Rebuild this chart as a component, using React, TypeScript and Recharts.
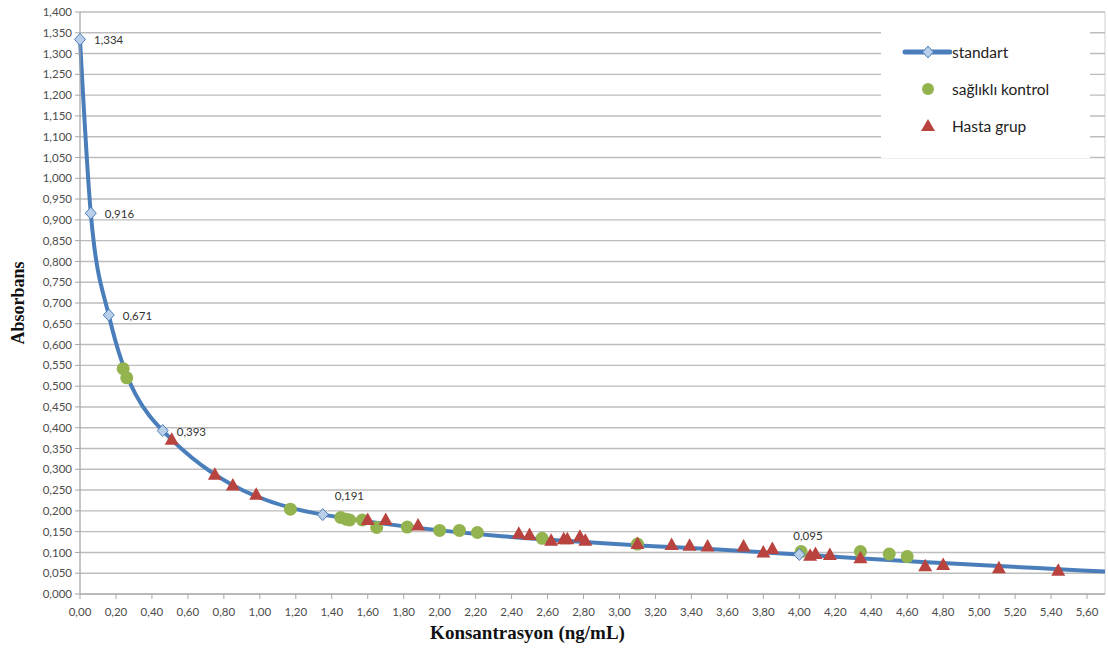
import React from "react";
import {
  CartesianGrid,
  ComposedChart,
  LabelList,
  Legend,
  Line,
  Scatter,
  XAxis,
  YAxis,
} from "recharts";

// standart eğrisi (son nokta: eğrinin grafik kenarına uzanan kısmı, etiketsiz)
const standartX = [0, 0.06, 0.16, 0.46, 1.35, 4.0, 5.7];
const standartY = [1.334, 0.916, 0.671, 0.393, 0.191, 0.095, 0.054];

const kontrolX = [
  0.24, 0.26, 1.17, 1.45, 1.48, 1.5, 1.57, 1.65, 1.82, 2.0, 2.11, 2.21, 2.57,
  3.1, 4.01, 4.34, 4.5, 4.6,
];
const kontrolY = [
  0.542, 0.52, 0.204, 0.184, 0.18, 0.178, 0.178, 0.16, 0.161, 0.153, 0.153,
  0.148, 0.134, 0.12, 0.102, 0.102, 0.096, 0.09,
];

const hastaX = [
  0.51, 0.75, 0.85, 0.98, 1.6, 1.7, 1.88, 2.44, 2.5, 2.62, 2.69, 2.71, 2.78,
  2.81, 3.1, 3.29, 3.39, 3.49, 3.69, 3.8, 3.85, 4.06, 4.09, 4.17, 4.34, 4.7,
  4.8, 5.11, 5.44,
];
const hastaY = [
  0.371, 0.287, 0.261, 0.239, 0.178, 0.178, 0.165, 0.145, 0.142, 0.128, 0.132,
  0.132, 0.138, 0.128, 0.12, 0.118, 0.116, 0.114, 0.114, 0.1, 0.108, 0.092,
  0.096, 0.094, 0.086, 0.067, 0.07, 0.062, 0.056,
];

const xTicks = Array.from({ length: 29 }, (_, i) => +(i * 0.2).toFixed(2));
const yTicks = Array.from({ length: 29 }, (_, i) => +(i * 0.05).toFixed(2));
const gridTicks = Array.from({ length: 143 }, (_, i) => +(i * 0.04).toFixed(2));

const standart = standartX.map((x, i) => ({ x, y: standartY[i] }));
const kontrol = kontrolX.map((x, i) => ({ x, y: kontrolY[i] }));
const hasta = hastaX.map((x, i) => ({ x, y: hastaY[i] }));

const BLUE = "#4a7ebb";
const GREEN = "#93b34f";
const RED = "#b8433f";
const FONT = "Lato, 'Open Sans', sans-serif";

const labelSide = ["right", "right", "right", "right", "top", "top"];

const comma = (v: number, d: number) => v.toFixed(d).replace(".", ",");

function Diamond({ cx, cy }: { cx: number; cy: number }) {
  return (
    <path
      d={`M${cx},${cy - 6}L${cx + 5.5},${cy}L${cx},${cy + 6}L${cx - 5.5},${cy}Z`}
      fill="#b9cfe9"
      stroke={BLUE}
      strokeWidth={1}
    />
  );
}

const renderDot = (p: any) => {
  if (p.index >= labelSide.length) return <g key={`d${p.index}`} />;
  return (
    <g key={`d${p.index}`}>
      <Diamond cx={p.cx} cy={p.cy} />
    </g>
  );
};

const renderStdLabel = (p: any) => {
  const { x, y, value, index } = p;
  if (index >= labelSide.length) return null;
  const right = labelSide[index] === "right";
  return (
    <text
      x={right ? x + 14 : index === 5 ? x - 6 : x + 12}
      y={right ? y + 5 : y - 15}
      fontSize={11.5}
      fontFamily={FONT}
      fill="#333"
    >
      {comma(Number(value), 3)}
    </text>
  );
};

const greenShape = (p: any) => (
  <circle cx={p.cx} cy={p.cy} r={6.5} fill={GREEN} />
);

const redShape = (p: any) => (
  <path
    d={`M${p.cx},${p.cy - 7.5}L${p.cx + 7},${p.cy + 5}L${p.cx - 7},${p.cy + 5}Z`}
    fill={RED}
  />
);

function LegendBox() {
  const row = (top: number, icon: React.ReactNode, text: string) => (
    <div
      style={{
        position: "absolute",
        left: 0,
        top: top - 12,
        height: 24,
        display: "flex",
        alignItems: "center",
      }}
    >
      <svg width={71} height={24}>
        {icon}
      </svg>
      <span>{text}</span>
    </div>
  );
  return (
    <div
      style={{
        position: "relative",
        width: 209,
        height: 136,
        background: "#fff",
        fontFamily: FONT,
        fontSize: 15.5,
        color: "#222",
      }}
    >
      {row(
        30,
        <g>
          <line x1={24} x2={69} y1={12} y2={12} stroke={BLUE} strokeWidth={5} strokeLinecap="round" />
          <Diamond cx={47} cy={12} />
        </g>,
        "standart"
      )}
      {row(67, <circle cx={47} cy={12} r={6} fill={GREEN} />, "sağlıklı kontrol")}
      {row(
        104,
        <path d="M47,5L54,17L40,17Z" fill={RED} />,
        "Hasta grup"
      )}
    </div>
  );
}

export default function App() {
  const tick = { fill: "#4d4d4d", fontSize: 11.5, fontFamily: FONT };
  return (
    <div style={{ position: "absolute", left: 0, top: 0, background: "#fff" }}>
      <ComposedChart
        width={1108}
        height={648}
        margin={{ top: 12, right: 3, bottom: 0, left: 0 }}
      >
        <CartesianGrid
          xAxisId="grid"
          horizontal={false}
          stroke="#cfcfcf"
          strokeWidth={1}
        />
        <CartesianGrid vertical={false} stroke="#bdbdbd" strokeWidth={1.4} />
        <XAxis
          xAxisId="grid"
          type="number"
          dataKey="x"
          domain={[0, 5.7]}
          ticks={gridTicks}
          hide
        />
        <XAxis
          type="number"
          dataKey="x"
          domain={[0, 5.7]}
          ticks={xTicks}
          interval={0}
          height={54}
          tick={tick}
          tickSize={5}
          tickMargin={9}
          tickFormatter={(v: number) => comma(v, 2)}
          axisLine={{ stroke: "#a6a6a6" }}
          tickLine={{ stroke: "#a6a6a6" }}
          label={{
            value: "Konsantrasyon (ng/mL)",
            position: "insideBottom",
            offset: 9,
            dx: -65,
            style: {
              fontFamily: "'Liberation Serif', 'Times New Roman', serif",
              fontWeight: 700,
              fontSize: 19,
              fill: "#111",
            },
          }}
        />
        <YAxis
          type="number"
          dataKey="y"
          domain={[0, 1.4]}
          ticks={yTicks}
          interval={0}
          width={80}
          tick={tick}
          tickSize={5}
          tickMargin={3}
          tickFormatter={(v: number) => comma(v, 3)}
          axisLine={{ stroke: "#a6a6a6" }}
          tickLine={{ stroke: "#a6a6a6" }}
          label={{
            value: "Absorbans",
            angle: -90,
            position: "center",
            dx: -22,
            style: {
              fontFamily: "'Liberation Serif', 'Times New Roman', serif",
              fontWeight: 700,
              fontSize: 18,
              fill: "#111",
            },
          }}
        />
        <Legend
          layout="horizontal"
          verticalAlign="middle"
          align="center"
          content={() => <LegendBox />}
          wrapperStyle={{ left: 881, top: 22, width: 209, height: 136 }}
        />
        <Line
          data={standart}
          dataKey="y"
          name="standart"
          type="monotone"
          stroke={BLUE}
          strokeWidth={4}
          dot={renderDot}
          activeDot={false}
          isAnimationActive={false}
        >
          <LabelList dataKey="y" content={renderStdLabel} />
        </Line>
        <Scatter
          data={kontrol}
          name="sağlıklı kontrol"
          shape={greenShape}
          isAnimationActive={false}
        />
        <Scatter
          data={hasta}
          name="Hasta grup"
          shape={redShape}
          isAnimationActive={false}
        />
      </ComposedChart>
    </div>
  );
}
